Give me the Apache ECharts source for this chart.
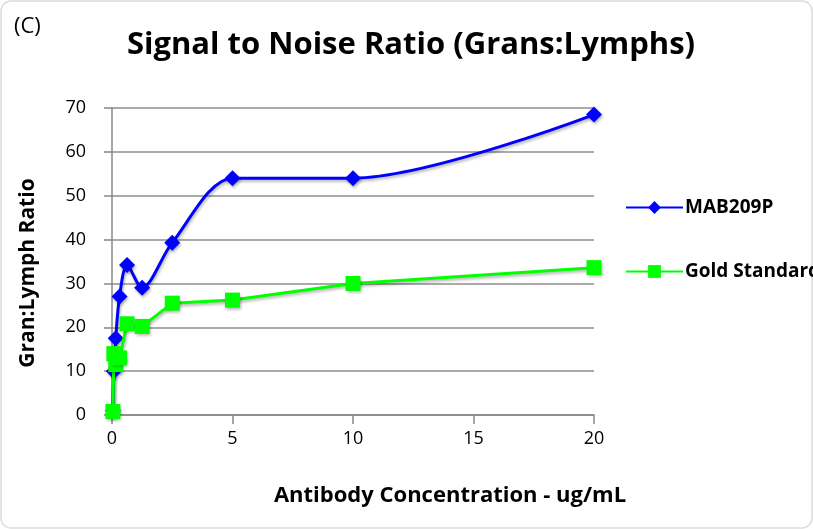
<!DOCTYPE html>
<html>
<head>
<meta charset="utf-8">
<script src="https://cdn.jsdelivr.net/npm/echarts@6/dist/echarts.min.js"></script>
<style>
  html, body { margin: 0; padding: 0; background: #fff; }
  #chart { width: 813px; height: 529px; }
</style>
</head>
<body>
<div id="chart"></div>
<script>
'use strict';
// antibody concentrations (ug/mL)
const conc = [0.039, 0.078, 0.156, 0.3125, 0.625, 1.25, 2.5, 5, 10, 20];
const mab209p = [1, 10, 17.5, 27, 34.2, 29, 39.3, 54, 54, 68.5];
const goldStandard = [0.8, 14, 11.5, 13, 20.8, 20.2, 25.5, 26.2, 30, 33.6];
const xTicks = [0, 5, 10, 15, 20];
const yTicks = [0, 10, 20, 30, 40, 50, 60, 70];

const pairs = ys => conc.map((x, i) => [x, ys[i]]);
const font = "'Open Sans', 'Noto Sans', sans-serif";
const shadow = { shadowColor: 'rgba(0,0,0,0.3)', shadowBlur: 3, shadowOffsetX: 1, shadowOffsetY: 2 };

const chart = echarts.init(document.getElementById('chart'));
chart.setOption({
    animation: false,
    title: [{
        text: 'Signal to Noise Ratio (Grans:Lymphs)',
        left: 406,
        top: 25,
        textAlign: 'center',
        textStyle: { fontFamily: font, fontSize: 31, fontWeight: 'bold', color: '#000' }
    }, {
        text: '(C)',
        left: 9,
        top: 11,
        textStyle: { fontFamily: font, fontSize: 22, fontWeight: 'normal', color: '#000' }
    }, {
        // x axis title sits centred on the whole frame, not on the plot
        text: 'Antibody Concentration - ug/mL',
        left: 445,
        top: 480,
        textAlign: 'center',
        textStyle: { fontFamily: font, fontSize: 22, fontWeight: 'bold', color: '#000' }
    }],
    grid: { left: 112, right: 219, top: 108, bottom: 114 },
    legend: {
        orient: 'vertical',
        left: 620,
        top: 193,
        itemWidth: 57,
        itemHeight: 16,
        itemGap: 45,
        textStyle: { fontFamily: font, fontSize: 19, fontWeight: 'bold', color: '#000', padding: [0, 0, 0, -3] },
        data: ['MAB209P', 'Gold Standard']
    },
    xAxis: {
        type: 'value',
        min: 0, max: 20, interval: 5,
        axisLine: { show: true, lineStyle: { color: '#888', width: 1.5 } },
        axisTick: { show: true, length: 9, lineStyle: { color: '#888', width: 1.5 } },
        axisLabel: {
            fontFamily: font, fontSize: 18, color: '#000', margin: 15,
            formatter: v => xTicks.includes(v) ? String(v) : ''
        },
        splitLine: { show: false }
    },
    yAxis: {
        type: 'value',
        min: 0, max: 70, interval: 10,
        axisLine: { show: true, lineStyle: { color: '#888', width: 1.5 } },
        axisTick: { show: true, length: 8, lineStyle: { color: '#888', width: 1.5 } },
        axisLabel: {
            fontFamily: font, fontSize: 18, color: '#000', margin: 26,
            formatter: v => yTicks.includes(v) ? String(v) : ''
        },
        splitLine: { show: true, lineStyle: { color: '#8c8c8c', width: 1.5 } }
    },
    series: [{
        name: 'MAB209P',
        type: 'line',
        data: pairs(mab209p),
        smooth: 0.3,
        symbol: 'diamond',
        symbolSize: 16,
        itemStyle: Object.assign({ color: '#0000ff' }, shadow),
        lineStyle: Object.assign({ color: '#0000ff', width: 3 }, shadow),
        z: 3
    }, {
        name: 'Gold Standard',
        type: 'line',
        data: pairs(goldStandard),
        symbol: 'rect',
        symbolSize: 15,
        itemStyle: Object.assign({ color: '#00ff00' }, shadow),
        lineStyle: Object.assign({ color: '#00ff00', width: 3 }, shadow),
        z: 4
    }],
    graphic: [{
        type: 'text',
        x: 28,
        y: 273,
        rotation: Math.PI / 2,
        style: {
            text: 'Gran:Lymph Ratio',
            font: "bold 21px 'Open Sans', 'Noto Sans', sans-serif",
            fill: '#000',
            align: 'center',
            verticalAlign: 'middle'
        }
    }, {
        type: 'rect',
        shape: { x: 1, y: 1, width: 811, height: 527, r: 10 },
        style: { fill: 'none', stroke: '#dcdcdc', lineWidth: 1.5 },
        silent: true
    }]
});
</script>
</body>
</html>
